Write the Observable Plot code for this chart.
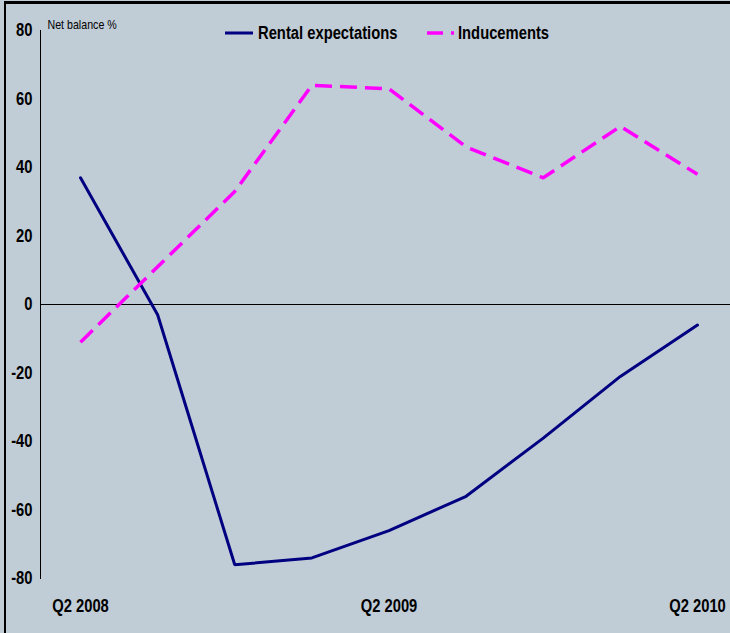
<!DOCTYPE html>
<html>
<head>
<meta charset="utf-8">
<script src="https://cdn.jsdelivr.net/npm/d3@7"></script>
<script src="https://cdn.jsdelivr.net/npm/@observablehq/plot@0.6"></script>
<style>
  html, body { margin: 0; padding: 0; background: #c0ccd6; }
  #wrap { position: relative; width: 730px; height: 633px; overflow: hidden; }
  #border { position: absolute; left: 4px; top: 1px; right: -10px; bottom: -10px;
            border-left: 2px solid #000; border-top: 3px solid #000; pointer-events: none; }
  .legend-item { position: absolute; top: 24px; height: 20px; }
  .legend-item svg { position: absolute; left: 0; top: 7px; display: block; }
  .legend-item span { position: absolute; top: -1px; white-space: nowrap;
            font-family: "Liberation Sans", Arial, sans-serif; font-weight: bold; font-size: 18px;
            color: #000; transform: scaleX(0.82); transform-origin: 0 50%; }
  svg.chart text { font-family: "Liberation Sans", Arial, sans-serif; }
</style>
</head>
<body>
<div id="wrap"></div>
<script>
// Quarterly survey net balances, Q2 2008 to Q2 2010
const quarters = ["Q2 2008", "Q3 2008", "Q4 2008", "Q1 2009", "Q2 2009", "Q3 2009", "Q4 2009", "Q1 2010", "Q2 2010"];
const rentalExpectations = [37, -3, -76, -74, -66, -56, -39, -21, -6];
const inducements = [-11, 11, 33, 64, 63, 46, 37, 52, 38];
const yTicks = [-80, -60, -40, -20, 0, 20, 40, 60, 80];
const xTickQuarters = ["Q2 2008", "Q2 2009", "Q2 2010"];

const seriesNames = ["Rental expectations", "Inducements"];
const seriesColors = ["#000080", "#ff00ff"];

const rows = [
  ...quarters.map((q, i) => ({i, quarter: q, series: seriesNames[0], value: rentalExpectations[i]})),
  ...quarters.map((q, i) => ({i, quarter: q, series: seriesNames[1], value: inducements[i]}))
];

const chart = Plot.plot({
  width: 730,
  height: 633,
  marginLeft: 40,
  marginRight: 0,
  marginTop: 30,
  marginBottom: 55,
  style: {background: "transparent", color: "#000", overflow: "visible"},
  className: "chart",
  x: {type: "linear", domain: [0, quarters.length - 1], range: [80, 697]},
  y: {domain: [-80, 80]},
  marks: [
    Plot.frame({anchor: "left", stroke: "#000", strokeWidth: 1}),
    Plot.ruleY([0], {stroke: "#000", strokeWidth: 1}),
    Plot.axisY({
      ticks: yTicks, tickSize: 0, tickPadding: 8, label: null,
      tickFormat: d => String(d),
      fontSize: 18, fontWeight: "bold"
    }),
    Plot.axisX({
      ticks: xTickQuarters.map(q => quarters.indexOf(q)),
      tickFormat: i => quarters[i],
      tickSize: 0, tickPadding: 21, label: null,
      fontSize: 18, fontWeight: "bold"
    }),
    Plot.text(["Net balance %"], {
      frameAnchor: "top-left", dx: 7, dy: -11, textAnchor: "start",
      fontSize: 13, fill: "#000"
    }),
    Plot.line(rows.filter(d => d.series === seriesNames[0]), {
      x: "i", y: "value", stroke: seriesColors[0], strokeWidth: 3, strokeLinejoin: "miter"
    }),
    Plot.line(rows.filter(d => d.series === seriesNames[1]), {
      x: "i", y: "value", stroke: seriesColors[1], strokeWidth: 3.5,
      strokeDasharray: "17,8", strokeLinecap: "butt"
    })
  ]
});

const wrap = document.getElementById("wrap");
wrap.appendChild(chart);

// Condense the chart lettering horizontally around each text's anchor point
chart.querySelectorAll("text").forEach(t => {
  const b = t.getBBox();
  const anchor = t.getAttribute("text-anchor") || t.closest("[text-anchor]")?.getAttribute("text-anchor") || "start";
  const ax = anchor === "end" ? b.x + b.width : anchor === "middle" ? b.x + b.width / 2 : b.x;
  const prev = t.getAttribute("transform") || "";
  t.setAttribute("transform", `${prev} translate(${ax},0) scale(0.82,1) translate(${-ax},0)`);
});

// Legend drawn over the top of the plot area
const legendItems = [
  {left: 225, textLeft: 33, swatch: `<line x1="0" x2="28" y1="2" y2="2" stroke="${seriesColors[0]}" stroke-width="3"/>`},
  {left: 427, textLeft: 31, swatch: `<line x1="0" x2="27" y1="2" y2="2" stroke="${seriesColors[1]}" stroke-width="3.5" stroke-dasharray="16,8,3,100"/>`}
];
legendItems.forEach((it, k) => {
  const div = document.createElement("div");
  div.className = "legend-item";
  div.style.left = it.left + "px";
  div.innerHTML = `<svg width="30" height="5">${it.swatch}</svg><span style="left:${it.textLeft}px">${seriesNames[k]}</span>`;
  wrap.appendChild(div);
});

const border = document.createElement("div");
border.id = "border";
wrap.appendChild(border);
</script>
</body>
</html>
